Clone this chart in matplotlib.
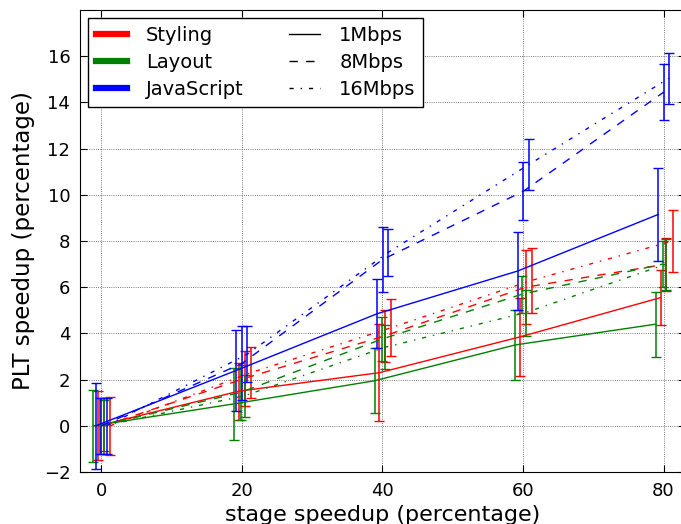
#!/usr/bin/env python3
"""PLT speedup vs stage speedup for three stages at three bandwidths."""
import matplotlib
matplotlib.use('Agg')
import matplotlib.pyplot as plt
from matplotlib.lines import Line2D

# stage speedup (%) on the x axis
stages = [0, 20, 40, 60, 80]

# mean PLT speedup (%) and error half-widths
styling_1m = [0.0, 1.5, 2.3, 3.85, 5.55]
styling_1m_err = [1.5, 1.23, 2.1, 1.7, 1.2]
styling_8m = [0.0, 2.05, 3.9, 6.0, 7.0]
styling_8m_err = [1.2, 1.2, 1.12, 1.6, 1.15]
styling_16m = [0.0, 2.3, 4.25, 6.3, 8.0]
styling_16m_err = [1.25, 1.1, 1.23, 1.4, 1.35]

layout_1m = [0.0, 0.95, 1.95, 3.5, 4.4]
layout_1m_err = [1.55, 1.55, 1.4, 1.5, 1.4]
layout_8m = [0.0, 1.45, 3.75, 5.7, 7.0]
layout_8m_err = [1.2, 1.2, 0.95, 0.8, 1.0]
layout_16m = [0.0, 1.3, 3.4, 4.9, 7.0]
layout_16m_err = [1.1, 0.9, 0.96, 1.0, 1.1]

js_1m = [0.0, 2.4, 4.85, 6.7, 9.15]
js_1m_err = [1.85, 1.75, 1.5, 1.7, 2.0]
js_8m = [0.0, 2.7, 7.2, 10.15, 14.45]
js_8m_err = [1.2, 1.6, 1.4, 1.25, 1.2]
js_16m = [0.0, 3.1, 7.5, 11.3, 15.05]
js_16m_err = [1.2, 1.2, 1.0, 1.1, 1.1]

categories = ['Styling', 'Layout', 'JavaScript']
bandwidths = ['1Mbps', '8Mbps', '16Mbps']

series = {
    ('Styling', '1Mbps'): (styling_1m, styling_1m_err),
    ('Styling', '8Mbps'): (styling_8m, styling_8m_err),
    ('Styling', '16Mbps'): (styling_16m, styling_16m_err),
    ('Layout', '1Mbps'): (layout_1m, layout_1m_err),
    ('Layout', '8Mbps'): (layout_8m, layout_8m_err),
    ('Layout', '16Mbps'): (layout_16m, layout_16m_err),
    ('JavaScript', '1Mbps'): (js_1m, js_1m_err),
    ('JavaScript', '8Mbps'): (js_8m, js_8m_err),
    ('JavaScript', '16Mbps'): (js_16m, js_16m_err),
}

# styling
colors = {'Styling': 'red', 'Layout': 'green', 'JavaScript': 'blue'}
dashes = {'1Mbps': None, '8Mbps': (6, 6), '16Mbps': (3, 5, 1, 5)}
# small horizontal jitter so the error bars don't sit on top of each other
jitter = {
    ('Layout', '1Mbps'): -1.1, ('JavaScript', '1Mbps'): -0.75, ('Styling', '1Mbps'): -0.4,
    ('Layout', '8Mbps'): -0.1, ('JavaScript', '8Mbps'): 0.05, ('Styling', '8Mbps'): 0.4,
    ('Layout', '16Mbps'): 0.4, ('JavaScript', '16Mbps'): 0.8, ('Styling', '16Mbps'): 1.3,
}

fig = plt.figure(figsize=(6.81, 5.24), dpi=100)
W, H = 681.0, 524.0
ax = fig.add_axes([80 / W, 52 / H, 604.6 / W, 462 / H])

for cat in categories:
    for bw in bandwidths:
        vals, errs = series[(cat, bw)]
        xs = [s + jitter[(cat, bw)] for s in stages]
        line, _, bars = ax.errorbar(xs, vals, yerr=errs, color=colors[cat], lw=1.0,
                                    elinewidth=1.1, capsize=3.5, capthick=1.0)
        if dashes[bw] is not None:
            line.set_dashes(dashes[bw])

ax.set_xlim(-3, 83)
ax.set_ylim(-2, 18)
ax.set_xticks([0, 20, 40, 60, 80])
ax.set_yticks(range(-2, 17, 2))
ax.set_yticklabels(['\u22122'] + [str(v) for v in range(0, 17, 2)])
ax.tick_params(direction='in', top=True, right=True, labelsize=13, length=5, pad=7)
ax.grid(True, color='black', linestyle=':', linewidth=0.6, alpha=0.7)
ax.set_axisbelow(True)

ax.set_xlabel('stage speedup (percentage)', fontsize=16, labelpad=4)
ax.set_ylabel('PLT speedup (percentage)', fontsize=16.5, labelpad=6)

handles = [Line2D([], [], color=colors[c], lw=4.5) for c in categories]
for b in bandwidths:
    h = Line2D([], [], color='black', lw=1.0)
    if dashes[b] is not None:
        h.set_dashes(dashes[b])
    handles.append(h)
labels = categories + bandwidths
leg = ax.legend(handles, labels, ncol=2, loc='upper left', fontsize=14,
                fancybox=False, framealpha=1, edgecolor='black',
                handlelength=1.6, handletextpad=1.0, columnspacing=2.3,
                borderpad=0.4, labelspacing=0.42, borderaxespad=0.4)
leg.get_frame().set_linewidth(1.0)

fig.savefig('out.png', dpi=100)
